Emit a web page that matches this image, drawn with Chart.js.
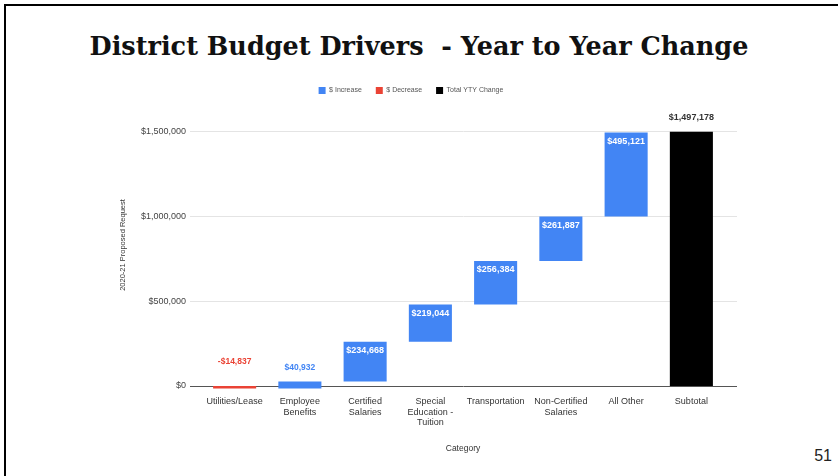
<!DOCTYPE html>
<html lang="en">
<head>
  <meta charset="UTF-8" />
  <title>District Budget Drivers</title>
  <script src="https://cdn.jsdelivr.net/npm/chart.js"></script>
  <style>
    html, body {
      margin: 0;
      padding: 0;
      width: 838px;
      height: 476px;
      overflow: hidden;
      background: #ffffff;
    }

    .slide-frame {
      position: absolute;
      left: 4px;
      top: 4px;
      right: 0;
      bottom: 0;
      border-left: 2px solid #000;
      border-top: 2px solid #000;
    }

    .slide-title {
      position: absolute;
      left: 0;
      top: 24px;
      width: 838px;
      text-align: center;
      font-family: 'DejaVu Serif', serif;
      font-weight: bold;
      font-size: 25.5px;
      line-height: 44px;
      color: #111;
      white-space: pre;
    }

    .page-num {
      position: absolute;
      right: 6px;
      top: 447px;
      font-family: 'Liberation Sans', Arial, sans-serif;
      font-size: 16px;
      color: #222;
    }

    .chart-box {
      position: absolute;
      left: 0;
      top: 70px;
      width: 838px;
      height: 406px;
    }
  </style>
</head>
<body>
  <div class="slide-frame"></div>
  <div class="slide-title">District Budget Drivers  - Year to Year Change</div>
  <div class="page-num">51</div>

  <div class="chart-box">
    <canvas id="waterfall"></canvas>
  </div>

  <script>
    let categories = [
      "Utilities/Lease",
      ["Employee", "Benefits"],
      ["Certified", "Salaries"],
      ["Special", "Education -", "Tuition"],
      "Transportation",
      ["Non-Certified", "Salaries"],
      "All Other",
      "Subtotal"
    ];
    let changes = [-14837, 40932, 234668, 219044, 256384, 261887, 495121];
    let subtotal = 1497178;
    let yTicks = [0, 500000, 1000000, 1500000];
    let yMax = 1661000;
    let seriesNames = ["$ Increase", "$ Decrease", "Total YTY Change"];

    const BLUE = "#4285f4";
    const RED = "#ea4335";
    const BLACK = "#000000";
    const FONT = "'Liberation Sans', Arial, sans-serif";

    function money(v) {
      let s = "$" + Math.abs(v).toLocaleString("en-US");
      return v < 0 ? "-" + s : s;
    }

    // running totals -> floating [start, end] bars
    let increaseBars = [], decreaseBars = [], totalBars = [];
    let running = 0;
    changes.forEach(c => {
      let start = running;
      running += c;
      if (c >= 0) {
        increaseBars.push([start, running]);
        decreaseBars.push(null);
      } else {
        increaseBars.push(null);
        decreaseBars.push([start, running]);
      }
      totalBars.push(null);
    });
    increaseBars.push(null);
    decreaseBars.push(null);
    totalBars.push([0, subtotal]);

    let labelValues = changes.concat([subtotal]);

    // horizontal grid, a little wider than the bar area
    const wideGrid = {
      id: "wideGrid",
      beforeDatasetsDraw(chart) {
        const ctx = chart.ctx;
        const area = chart.chartArea;
        const y = chart.scales.y;
        ctx.save();
        ctx.lineWidth = 1;
        yTicks.forEach(v => {
          const py = Math.round(y.getPixelForValue(v)) + 0.5;
          ctx.strokeStyle = v === 0 ? "#555" : "#e4e4e4";
          ctx.beginPath();
          ctx.moveTo(area.left - 12, py);
          ctx.lineTo(area.right + 13, py);
          ctx.stroke();
        });
        ctx.restore();
      }
    };

    // value labels on / above each bar
    const barLabels = {
      id: "barLabels",
      afterDatasetsDraw(chart) {
        const ctx = chart.ctx;
        const zeroY = chart.scales.y.getPixelForValue(0);
        ctx.save();
        ctx.textAlign = "center";
        ctx.textBaseline = "middle";
        chart.data.datasets.forEach((ds, di) => {
          const meta = chart.getDatasetMeta(di);
          meta.data.forEach((bar, i) => {
            if (ds.data[i] == null) return;
            const v = labelValues[i];
            const top = Math.min(bar.y, bar.base);
            const h = Math.abs(bar.base - bar.y);
            if (di === 2) {
              ctx.font = "bold 9px " + FONT;
              ctx.fillStyle = "#333";
              ctx.fillText(money(v), bar.x, top - 14);
            } else if (di === 1) {
              ctx.font = "bold 8.5px " + FONT;
              ctx.fillStyle = RED;
              ctx.fillText(money(v), bar.x, zeroY - 24);
            } else if (h > 20) {
              ctx.font = "bold 9px " + FONT;
              ctx.fillStyle = "#ffffff";
              ctx.fillText(money(v), bar.x, top + 9);
            } else {
              ctx.font = "bold 8.5px " + FONT;
              ctx.fillStyle = BLUE;
              ctx.fillText(money(v), bar.x, top - 14);
            }
          });
        });
        ctx.restore();
      }
    };

    function createChart() {
      const ctx = document.getElementById("waterfall").getContext("2d");
      new Chart(ctx, {
        type: "bar",
        data: {
          labels: categories,
          datasets: [
            { label: seriesNames[0], data: increaseBars, backgroundColor: BLUE, clip: false },
            { label: seriesNames[1], data: decreaseBars, backgroundColor: RED, clip: false },
            { label: seriesNames[2], data: totalBars, backgroundColor: BLACK, clip: false }
          ]
        },
        options: {
          responsive: true,
          maintainAspectRatio: false,
          animation: false,
          categoryPercentage: 1,
          barPercentage: 0.66,
          layout: {
            padding: { left: 98, right: 114, top: 3, bottom: 20 }
          },
          plugins: {
            legend: {
              position: "top",
              labels: {
                boxWidth: 7,
                boxHeight: 7,
                padding: 14,
                color: "#555",
                font: { family: FONT, size: 7 }
              }
            },
            tooltip: { enabled: false }
          },
          scales: {
            x: {
              stacked: true,
              grid: { display: false },
              border: { display: false },
              ticks: {
                padding: 2,
                maxRotation: 0,
                autoSkip: false,
                color: "#333",
                font: { family: FONT, size: 9, lineHeight: 1.2 }
              },
              title: {
                display: true,
                text: "Category",
                color: "#333",
                font: { family: FONT, size: 8.5 },
                padding: { top: 0, bottom: 2 }
              },
              afterFit: s => { s.height = 70; }
            },
            y: {
              min: 0,
              max: yMax,
              afterBuildTicks: s => { s.ticks = yTicks.map(v => ({ value: v })); },
              grid: { display: false, drawTicks: false },
              border: { display: false },
              ticks: {
                padding: 16,
                color: "#444",
                font: { family: FONT, size: 9 },
                callback: v => money(v)
              },
              title: {
                display: true,
                text: "2020-21 Proposed Request",
                color: "#333",
                font: { family: FONT, size: 7.5 },
                padding: { top: 20, bottom: 0 }
              },
              afterFit: s => { s.width = 104; }
            }
          }
        },
        plugins: [wideGrid, barLabels]
      });
    }

    window.onload = function () {
      createChart();
    };
  </script>
</body>
</html>
